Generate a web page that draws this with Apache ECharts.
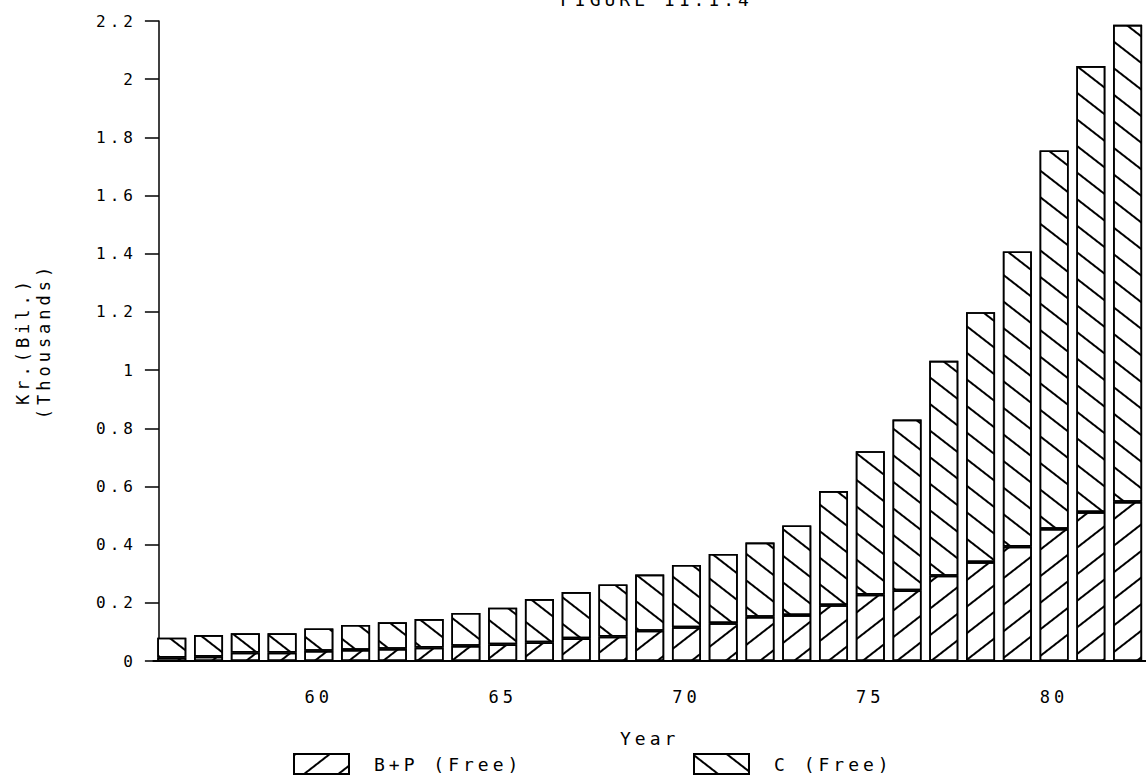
<!DOCTYPE html>
<html>
<head>
<meta charset="utf-8">
<script src="https://cdn.jsdelivr.net/npm/echarts@6/dist/echarts.min.js"></script>
<style>
  html, body { margin: 0; padding: 0; background: #fff; }
  #main { width: 1146px; height: 777px; }
  #main text { letter-spacing: 4px; }
</style>
</head>
<body>
<div id="main"></div>
<script>
// ---- data ----
const years = ['56','57','58','59','60','61','62','63','64','65','66','67','68','69',
               '70','71','72','73','74','75','76','77','78','79','80','81','82'];
// B+P (Free), thousands of billions Kr.
const bpFree = [0.012, 0.015, 0.029, 0.029, 0.035, 0.038, 0.042, 0.046, 0.052, 0.057,
                0.064, 0.078, 0.084, 0.104, 0.116, 0.130, 0.152, 0.158, 0.192, 0.228,
                0.243, 0.293, 0.340, 0.393, 0.454, 0.512, 0.547];
// C (Free), stacked on top of B+P
const cFree = [0.068, 0.074, 0.066, 0.066, 0.077, 0.086, 0.091, 0.098, 0.113, 0.126,
               0.149, 0.159, 0.179, 0.193, 0.214, 0.238, 0.255, 0.308, 0.392, 0.493,
               0.587, 0.739, 0.859, 1.015, 1.301, 1.533, 1.640];
const seriesNames = ['B+P (Free)', 'C (Free)'];
const yTicks = { min: 0, max: 2.2, interval: 0.2 };
const titleText = 'FIGURE 11.1.4';
const xName = 'Year';
const yName = 'Kr.(Bil.)\n(Thousands)';

const FONT = 'DejaVu Sans Mono';
const chart = echarts.init(document.getElementById('main'), null, { renderer: 'svg' });

function hatch(angle) {
  return { symbol: 'rect', symbolSize: 1, dashArrayX: [1, 0], dashArrayY: [1.6, 18.4],
           rotation: angle, color: '#000' };
}
const barStyle = (angle) => ({ color: '#fff', borderColor: '#000', borderWidth: 1.6, decal: hatch(angle) });

chart.setOption({
  backgroundColor: '#fff',
  animation: false,
  title: {
    text: titleText, left: 560, top: -10, padding: 0,
    textStyle: { fontFamily: FONT, fontSize: 18, fontWeight: 'normal', color: '#000' }
  },
  grid: { left: 153.4, top: 21, width: 1004.4, height: 640 },
  legend: [
    { data: [seriesNames[0]], left: 293, top: 753, padding: 0, icon: 'rect',
      itemWidth: 55, itemHeight: 20,
      textStyle: { fontFamily: FONT, fontSize: 18, color: '#000', padding: [0, 0, 0, 20] } },
    { data: [seriesNames[1]], left: 693, top: 753, padding: 0, icon: 'rect',
      itemWidth: 55, itemHeight: 20,
      textStyle: { fontFamily: FONT, fontSize: 18, color: '#000', padding: [0, 0, 0, 20] } }
  ],
  xAxis: {
    type: 'category', data: years,
    name: xName, nameLocation: 'middle', nameGap: 68,
    nameTextStyle: { fontFamily: FONT, fontSize: 18, color: '#000' },
    axisLine: { lineStyle: { color: '#000', width: 2 } },
    axisTick: { interval: 0, alignWithLabel: true, length: 11, lineStyle: { color: '#000', width: 1.5 } },
    axisLabel: {
      interval: (i, v) => Number(v) % 5 === 0,
      margin: 27, fontFamily: FONT, fontSize: 17, color: '#000'
    },
    splitLine: { show: false }
  },
  yAxis: {
    type: 'value', min: yTicks.min, max: yTicks.max, interval: yTicks.interval,
    offset: -5.5,
    name: yName, nameLocation: 'middle', nameGap: 104,
    nameTextStyle: { fontFamily: FONT, fontSize: 17, color: '#000', lineHeight: 21 },
    axisLine: { show: true, lineStyle: { color: '#000', width: 1.5 } },
    axisTick: { show: true, length: 14, lineStyle: { color: '#000', width: 1.5 } },
    axisLabel: { margin: 22, fontFamily: FONT, fontSize: 16, color: '#000' },
    splitLine: { show: false }
  },
  series: [
    { name: seriesNames[0], type: 'bar', stack: 'total', data: bpFree, barWidth: 29,
      itemStyle: barStyle(-0.66) },
    { name: seriesNames[1], type: 'bar', stack: 'total', data: cFree, barWidth: 29,
      itemStyle: barStyle(0.66) }
  ]
});
</script>
</body>
</html>
